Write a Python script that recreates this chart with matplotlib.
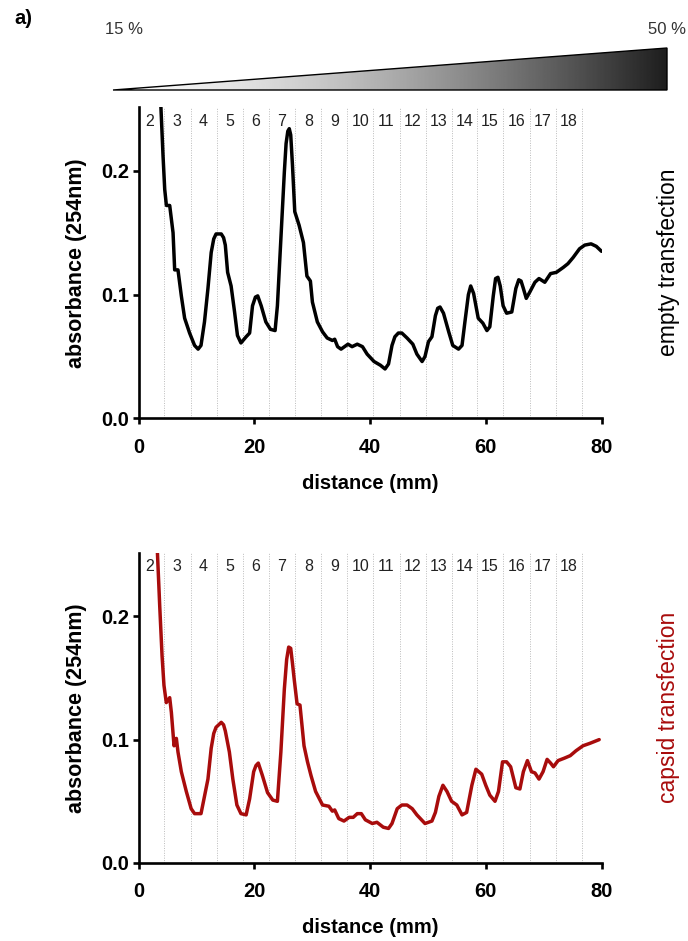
import numpy as np
import matplotlib.pyplot as plt
from matplotlib.patches import Polygon

plt.rcParams['font.family'] = ['Liberation Sans', 'DejaVu Sans']

# sucrose gradient fractions: boundaries (mm) and labels
frac_bounds = [4.4, 9.0, 13.5, 18.0, 22.5, 27.1, 31.6, 36.1, 40.5, 45.1,
               49.6, 54.1, 58.5, 63.0, 67.6, 72.1, 76.7]
frac_labels = [str(i) for i in range(2, 19)]

# empty transfection trace
top_x = [3.7, 4.24, 4.53, 4.82, 5.39, 5.97, 6.25, 6.82, 7.4, 7.97, 8.83, 9.69, 10.3, 10.8,
         11.4, 12.0, 12.56, 13.0, 13.4, 14.3, 14.7, 15.0, 15.4, 16.0, 16.6, 17.1, 17.7,
         18.6, 19.2, 19.7, 20.2, 20.6, 21.2, 22.0, 22.8, 23.6, 24.0, 24.6, 25.2, 25.5,
         25.8, 26.05, 26.3, 26.6, 27.0, 27.75, 28.5, 29.1, 29.7, 30.05, 30.9, 31.8, 32.6,
         33.5, 33.9, 34.4, 35.0, 36.2, 36.9, 37.8, 38.7, 39.5, 40.7, 41.8, 42.6, 43.2,
         43.8, 44.3, 44.9, 45.5, 46.4, 47.4, 48.1, 49.0, 49.5, 50.1, 50.7, 51.3, 51.7,
         52.1, 52.7, 53.6, 54.3, 55.3, 55.9, 56.4, 57.0, 57.4, 57.9, 58.7, 59.5, 60.2,
         60.7, 61.3, 61.7, 62.1, 62.5, 63.0, 63.6, 64.5, 65.2, 65.7, 66.1, 66.5, 67.0,
         67.6, 68.5, 69.2, 70.2, 71.2, 72.2, 73.4, 74.2, 75.1, 76.2, 77.1, 78.2, 79.1,
         80.0]
top_y = [0.27, 0.212, 0.185, 0.172, 0.172, 0.150, 0.120, 0.120, 0.099, 0.081, 0.069, 0.059,
         0.056, 0.059, 0.078, 0.105, 0.134, 0.145, 0.149, 0.149, 0.146, 0.140, 0.118,
         0.107, 0.086, 0.067, 0.061, 0.066, 0.069, 0.091, 0.098, 0.099, 0.091, 0.078,
         0.072, 0.071, 0.091, 0.145, 0.199, 0.222, 0.232, 0.234, 0.229, 0.205, 0.167,
         0.156, 0.142, 0.115, 0.111, 0.094, 0.078, 0.070, 0.065, 0.063, 0.064, 0.058,
         0.056, 0.060, 0.058, 0.060, 0.058, 0.052, 0.046, 0.043, 0.040, 0.044, 0.059,
         0.066, 0.069, 0.069, 0.065, 0.060, 0.052, 0.046, 0.050, 0.062, 0.066, 0.083,
         0.089, 0.090, 0.085, 0.070, 0.059, 0.056, 0.059, 0.078, 0.100, 0.107, 0.101,
         0.081, 0.077, 0.071, 0.074, 0.099, 0.113, 0.114, 0.107, 0.091, 0.085, 0.086,
         0.105, 0.112, 0.111, 0.105, 0.097, 0.102, 0.110, 0.113, 0.110, 0.117, 0.118,
         0.122, 0.125, 0.130, 0.137, 0.140, 0.141, 0.139, 0.135]

# capsid transfection trace
bot_x = [3.1, 3.67, 4.07, 4.4, 4.8, 5.39, 5.68, 6.14, 6.54, 6.82, 7.4, 8.26, 9.1, 9.69,
         10.8, 11.4, 12.0, 12.56, 13.0, 13.4, 14.3, 14.7, 15.0, 15.7, 16.3, 17.0, 17.7,
         18.6, 19.2, 19.9, 20.3, 20.7, 21.4, 22.3, 23.2, 24.0, 24.6, 25.2, 25.6, 25.95,
         26.3, 26.6, 26.9, 27.4, 27.9, 28.6, 29.2, 29.8, 30.6, 31.8, 32.9, 33.5, 33.9,
         34.6, 35.5, 36.4, 37.1, 37.8, 38.5, 39.2, 40.4, 41.2, 42.3, 43.2, 43.8, 44.7,
         45.5, 46.4, 47.3, 48.1, 49.5, 50.7, 51.3, 51.9, 52.6, 53.3, 54.1, 55.0, 55.9,
         56.7, 57.6, 58.3, 59.3, 60.0, 60.7, 61.6, 62.2, 62.9, 63.6, 64.3, 65.2, 65.9,
         66.5, 67.2, 67.9, 68.5, 69.2, 69.9, 70.6, 71.2, 71.7, 72.5, 73.6, 74.6, 75.6,
         76.8, 78.0, 79.6]
bot_y = [0.27, 0.208, 0.168, 0.144, 0.130, 0.134, 0.122, 0.095, 0.101, 0.090, 0.074, 0.058,
         0.044, 0.040, 0.040, 0.054, 0.068, 0.093, 0.105, 0.110, 0.114, 0.112, 0.107,
         0.090, 0.068, 0.047, 0.040, 0.039, 0.052, 0.074, 0.079, 0.081, 0.071, 0.057,
         0.051, 0.050, 0.090, 0.141, 0.165, 0.175, 0.174, 0.162, 0.149, 0.129, 0.128,
         0.095, 0.082, 0.071, 0.058, 0.047, 0.046, 0.042, 0.043, 0.036, 0.034, 0.037,
         0.037, 0.040, 0.040, 0.035, 0.032, 0.033, 0.029, 0.028, 0.032, 0.044, 0.047,
         0.047, 0.044, 0.039, 0.032, 0.034, 0.041, 0.054, 0.063, 0.058, 0.050, 0.047,
         0.039, 0.041, 0.063, 0.076, 0.072, 0.063, 0.055, 0.050, 0.058, 0.082, 0.082,
         0.078, 0.061, 0.060, 0.074, 0.083, 0.074, 0.073, 0.068, 0.074, 0.084, 0.081,
         0.078, 0.083, 0.085, 0.087, 0.091, 0.095, 0.097, 0.100]

RED = '#a80c0c'
W, H = 688, 941
fig = plt.figure(figsize=(W / 100, H / 100), dpi=100)

# gradient wedge on top, drawn in pixel coordinates
axg = fig.add_axes([0, 0, 1, 1])
axg.set_xlim(0, W)
axg.set_ylim(H, 0)
axg.axis('off')
t = np.linspace(0, 1, 400)
grad = (250 - 220 * t ** 1.5) / 255
img = axg.imshow(grad[None, :], cmap='gray', vmin=0, vmax=1, aspect='auto',
                 extent=[113, 667, 90, 48])
wedge = Polygon([[113, 90], [667, 48], [667, 90]], closed=True, facecolor='none',
                edgecolor='black', linewidth=1.0)
axg.add_patch(wedge)
img.set_clip_path(wedge)

fig.text(14 / W, 1 - 18 / H, 'a)', fontsize=14.5, fontweight='bold', ha='left', va='center')
fig.text(124 / W, 1 - 29 / H, '15 %', fontsize=12, color='#333333', ha='center', va='center')
fig.text(667 / W, 1 - 29 / H, '50 %', fontsize=12, color='#333333', ha='center', va='center')


def panel(rect, xs, ys, color, side_label):
    ax = fig.add_axes(rect)
    for b in frac_bounds:
        ax.axvline(b, color='#bbbbbb', linestyle=(0, (1, 1.5)), linewidth=0.7, zorder=1)
    centers = [2.0] + [(frac_bounds[i] + frac_bounds[i + 1]) / 2 for i in range(len(frac_bounds) - 1)]
    for c, lab in zip(centers, frac_labels):
        ax.text(c, 0.955, lab, transform=ax.get_xaxis_transform(), ha='center', va='center',
                fontsize=11.5, color='#222222')
    ax.plot(xs, ys, color=color, linewidth=2.5, zorder=3,
            solid_joinstyle='round', solid_capstyle='round')
    ax.set_xlim(0, 80)
    ax.set_ylim(0, 0.2515)
    ax.set_xticks([0, 20, 40, 60, 80])
    ax.set_yticks([0.0, 0.1, 0.2])
    ax.set_yticklabels(['0.0', '0.1', '0.2'])
    for s in ['top', 'right']:
        ax.spines[s].set_visible(False)
    for s in ['left', 'bottom']:
        ax.spines[s].set_linewidth(1.9)
    ax.tick_params(width=1.9, length=4, direction='out', labelsize=14.5, pad=3)
    ax.tick_params(axis='x', pad=10)
    for lab in ax.get_xticklabels() + ax.get_yticklabels():
        lab.set_fontweight('bold')
    ax.set_xlabel('distance (mm)', fontsize=14.5, fontweight='bold', labelpad=12)
    ax.set_ylabel('absorbance (254nm)', fontsize=15.5, fontweight='bold', labelpad=10)
    pos = ax.get_position()
    fig.text(668 / W, pos.y0 + pos.height * 0.5, side_label, rotation=90,
             fontsize=16.5, color=color, ha='center', va='center')
    return ax


ax1 = panel([138.5 / W, 1 - 418.5 / H, 463 / W, 311.5 / H], top_x, top_y, 'black',
            'empty transfection')
ax2 = panel([138.5 / W, 1 - 863 / H, 463 / W, 310.3 / H], bot_x, bot_y, RED,
            'capsid transfection')

fig.savefig('out.png', dpi=100)
